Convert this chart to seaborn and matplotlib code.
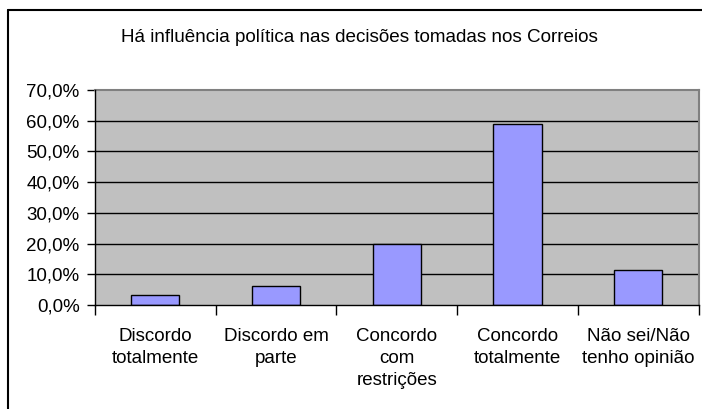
import matplotlib
matplotlib.use("Agg")
import matplotlib.pyplot as plt
from matplotlib.lines import Line2D
from matplotlib.ticker import FixedLocator, FuncFormatter
import seaborn as sns
import pandas as pd

categories = ["Discordo\ntotalmente", "Discordo em\nparte", "Concordo\ncom\nrestrições",
              "Concordo\ntotalmente", "Não sei/Não\ntenho opinião"]
values = [3.3, 6.2, 20.0, 59.0, 11.5]
y_ticks = [0, 10, 20, 30, 40, 50, 60, 70]
title = "Há influência política nas decisões tomadas nos Correios"

sns.set_style("white")
plt.rcParams['font.family'] = ['Liberation Sans', 'DejaVu Sans']
plt.rcParams['text.color'] = 'black'
plt.rcParams['xtick.color'] = 'black'
plt.rcParams['ytick.color'] = 'black'

df = pd.DataFrame({"cat": categories, "val": values})

fig = plt.figure(figsize=(7.02, 4.09), dpi=100)
ax = fig.add_axes([95/702, 1-305/409, (698.5-95)/702, (305-90)/409])
ax.set_facecolor("#C0C0C0")

sns.barplot(data=df, x="cat", y="val", ax=ax, color="#9999FF", width=0.4,
            edgecolor="black", linewidth=1.0, saturation=1, zorder=3)

ax.set_xlim(-0.5, len(categories) - 0.5)
ax.set_ylim(0, 70)
ax.set_yticks(y_ticks)
ax.yaxis.set_major_formatter(FuncFormatter(lambda v, p: f"{v:.1f}%".replace(".", ",")))
for y in y_ticks[1:-1]:
    ax.axhline(y, color="black", linewidth=1.0, zorder=1)

# x ticks at category boundaries, labels at centres
ax.xaxis.set_major_locator(FixedLocator([i - 0.5 for i in range(len(categories) + 1)]))
ax.xaxis.set_major_formatter(FuncFormatter(lambda v, p: ""))
ax.xaxis.set_minor_locator(FixedLocator(list(range(len(categories)))))
ax.set_xticklabels(categories, minor=True)
ax.tick_params(axis="x", which="major", length=7, width=1, color="black", direction="out", bottom=True)
ax.tick_params(axis="x", which="minor", length=0, pad=16.5, labelsize=13.5, labelcolor="black")
ax.tick_params(axis="y", which="major", length=6, width=1, color="black", direction="out", left=True,
               labelsize=13.5, pad=5, labelcolor="black")
for t in ax.get_xticklabels(minor=True):
    t.set_linespacing(1.4)
ax.set_xlabel("")
ax.set_ylabel("")

for side in ["top", "right"]:
    ax.spines[side].set_color("#808080")
    ax.spines[side].set_linewidth(1.5)
for side in ["left", "bottom"]:
    ax.spines[side].set_color("black")
    ax.spines[side].set_linewidth(1.0)
    ax.spines[side].set_zorder(5)

fig.text(359/702, 1-38/409, title, ha="center", va="center", fontsize=13.6, color="black")

# outer chart border (left and top only visible)
fig.add_artist(Line2D([8/702, 8/702], [0, 1-10/409], transform=fig.transFigure, color="black", linewidth=1.5))
fig.add_artist(Line2D([8/702, 1], [1-10/409, 1-10/409], transform=fig.transFigure, color="black", linewidth=1.5))

fig.savefig("out.png", dpi=100)
